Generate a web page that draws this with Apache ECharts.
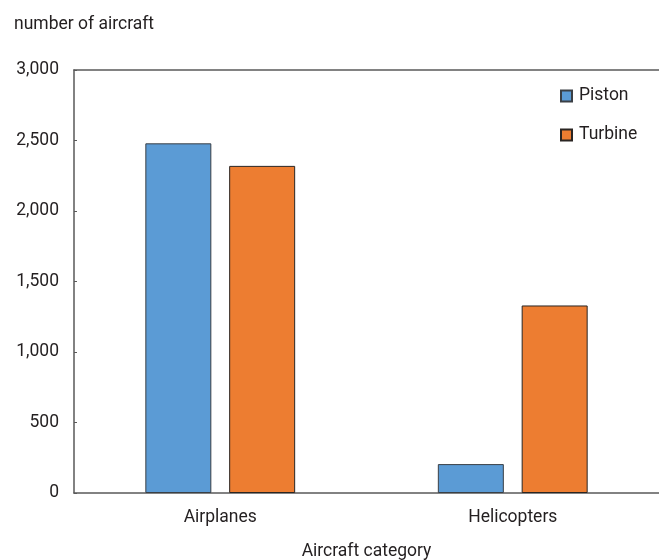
<!DOCTYPE html>
<html>
<head>
<meta charset="utf-8">
<script src="https://cdn.jsdelivr.net/npm/echarts@6/dist/echarts.min.js"></script>
<style>
  html, body { margin: 0; padding: 0; background: #fff; }
  #chart { width: 659px; height: 560px; }
</style>
</head>
<body>
<div id="chart"></div>
<script>
// Aircraft counts by category and engine type
const categories = ['Airplanes', 'Helicopters'];
const pistonValues = [2480, 205];
const turbineValues = [2320, 1330];
const yTicks = [0, 500, 1000, 1500, 2000, 2500, 3000];

const FONT = '"Roboto", "Liberation Sans", sans-serif';
const TEXT = '#231f20';
const FS = 17.5;

const chart = echarts.init(document.getElementById('chart'));
chart.setOption({
  animation: false,
  textStyle: { fontFamily: FONT, color: TEXT },
  title: {
    text: 'number of aircraft',
    left: 9, top: 11,
    textStyle: { fontFamily: FONT, fontSize: FS, fontWeight: 'normal', color: TEXT }
  },
  legend: {
    orient: 'vertical',
    left: 555, top: 82,
    itemWidth: 11, itemHeight: 11, itemGap: 21,
    icon: 'rect',
    textStyle: { fontFamily: FONT, fontSize: FS, color: TEXT, padding: [0, 0, 0, 2] },
    data: ['Piston', 'Turbine']
  },
  grid: { left: 74, right: 0, top: 70, bottom: 67, outerBoundsMode: 'none', containLabel: false },
  xAxis: [{
    type: 'category',
    data: categories,
    name: 'Aircraft category',
    nameLocation: 'middle',
    nameGap: 50,
    nameTextStyle: { fontFamily: FONT, fontSize: FS, color: TEXT },
    axisLine: { lineStyle: { color: '#595959', width: 1.5 } },
    axisTick: { show: false },
    axisLabel: { fontFamily: FONT, fontSize: FS, color: TEXT, margin: 16 }
  }, {
    // top frame line
    type: 'category',
    data: categories,
    position: 'top',
    axisLine: { lineStyle: { color: '#595959', width: 1.5 } },
    axisTick: { show: false },
    axisLabel: { show: false }
  }],
  yAxis: {
    type: 'value',
    min: 0, max: 3000, interval: 500,
    axisLine: { show: true, lineStyle: { color: '#595959', width: 1.5 } },
    axisTick: { show: true, inside: true, length: 3, lineStyle: { color: '#595959' } },
    splitLine: { show: false },
    axisLabel: {
      fontFamily: FONT, fontSize: FS, color: TEXT, margin: 15,
      formatter: v => yTicks.includes(v) ? v.toLocaleString('en-US') : ''
    }
  },
  series: [{
    name: 'Piston',
    type: 'bar',
    data: pistonValues,
    barWidth: 66,
    barGap: '27%',
    itemStyle: { color: '#5b9bd5', borderColor: '#3a3f45', borderWidth: 1 }
  }, {
    name: 'Turbine',
    type: 'bar',
    data: turbineValues,
    barWidth: 66,
    itemStyle: { color: '#ed7d31', borderColor: '#2a2522', borderWidth: 1 }
  }]
});
</script>
</body>
</html>
